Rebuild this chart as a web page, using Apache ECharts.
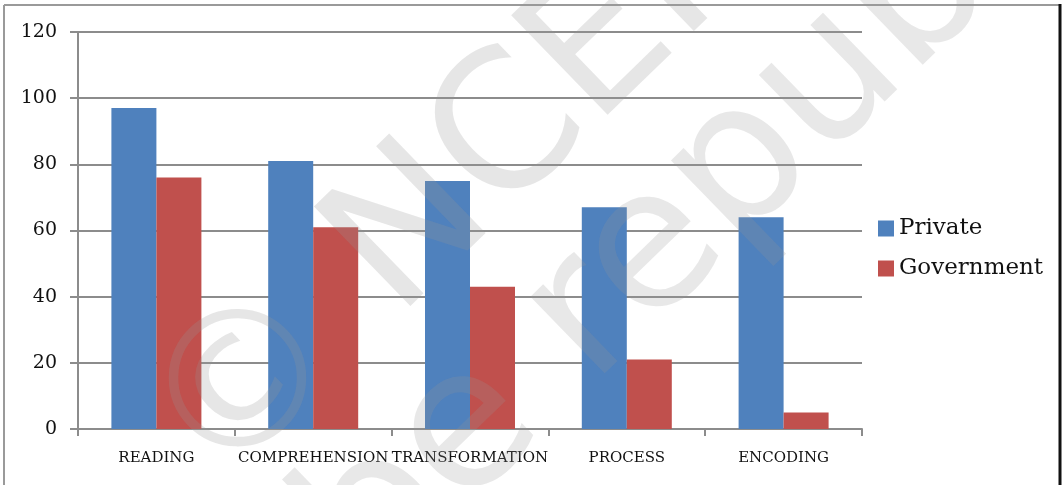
<!DOCTYPE html>
<html>
<head>
<meta charset="utf-8">
<script src="https://cdn.jsdelivr.net/npm/echarts@6/dist/echarts.min.js"></script>
<style>
  html, body { margin: 0; padding: 0; background: #fff; }
  #chart { width: 1063px; height: 485px; }
</style>
</head>
<body>
<div id="chart"></div>
<script>
const categories = ['READING', 'COMPREHENSION', 'TRANSFORMATION', 'PROCESS', 'ENCODING'];
const privateValues = [97, 81, 75, 67, 64];
const governmentValues = [76, 61, 43, 21, 5];
const yTicks = { min: 0, max: 120, interval: 20 };

const serif = '"DejaVu Serif", "Liberation Serif", serif';
const axisGray = '#8c8c8c';

const chart = echarts.init(document.getElementById('chart'), null, { renderer: 'canvas' });

chart.setOption({
  animation: false,
  color: ['#4f81bd', '#c0504d'],
  grid: { left: 78, right: 201, top: 32, bottom: 56 },
  legend: {
    orient: 'vertical',
    left: 873,
    top: 212,
    itemWidth: 16,
    itemHeight: 16,
    itemGap: 17,
    icon: 'rect',
    textStyle: { fontFamily: serif, fontSize: 23, color: '#111' },
    data: ['Private', 'Government'],
  },
  xAxis: {
    type: 'category',
    data: categories,
    axisLine: { lineStyle: { color: axisGray, width: 2 } },
    axisTick: { show: true, length: 7, lineStyle: { color: axisGray, width: 2 } },
    axisLabel: { fontFamily: serif, fontSize: 15, color: '#111', margin: 22, interval: 0 },
  },
  yAxis: {
    type: 'value',
    min: yTicks.min,
    max: yTicks.max,
    interval: yTicks.interval,
    axisLine: { show: true, lineStyle: { color: axisGray, width: 2 } },
    axisTick: { show: true, length: 8, lineStyle: { color: axisGray, width: 2 } },
    axisLabel: { fontFamily: serif, fontSize: 19, color: '#111', margin: 21 },
    splitLine: { lineStyle: { color: axisGray, width: 2 } },
  },
  series: [
    {
      name: 'Private',
      type: 'bar',
      data: privateValues,
      barWidth: 45,
      barGap: '0%',
    },
    {
      name: 'Government',
      type: 'bar',
      data: governmentValues,
      barWidth: 45,
      barGap: '0%',
    },
  ],
  graphic: [
    // frame of the chart picture
    { type: 'line', shape: { x1: 4, y1: 5, x2: 1060, y2: 5 }, style: { stroke: '#9a9a9a', lineWidth: 2 }, silent: true },
    { type: 'line', shape: { x1: 4, y1: 5, x2: 4, y2: 485 }, style: { stroke: '#9a9a9a', lineWidth: 2 }, silent: true },
    { type: 'line', shape: { x1: 1060, y1: 4, x2: 1060, y2: 485 }, style: { stroke: '#111', lineWidth: 3 }, silent: true },
    // faint watermark
    {
      type: 'text',
      x: 249,
      y: 526,
      rotation: 0.77,
      z: 100,
      silent: true,
      style: { text: '© NCERT', fontFamily: 'DejaVu Sans', fontSize: 190, fill: 'rgba(150,150,150,0.24)', verticalAlign: 'bottom' },
    },
    {
      type: 'text',
      x: 405,
      y: 632,
      rotation: 0.77,
      z: 100,
      silent: true,
      style: { text: 'be republished', fontFamily: 'DejaVu Sans', fontSize: 195, fill: 'rgba(150,150,150,0.22)', verticalAlign: 'bottom' },
    },
  ],
});

window.addEventListener('resize', () => chart.resize(), { passive: true });
</script>
</body>
</html>
